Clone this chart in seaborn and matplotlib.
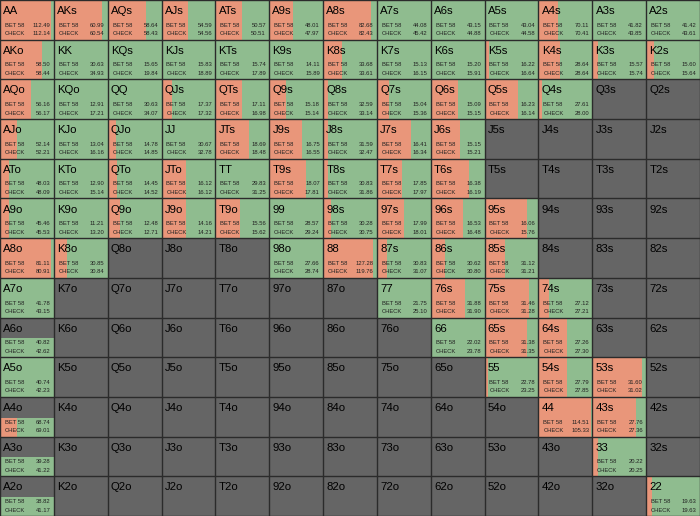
import numpy as np
import matplotlib
matplotlib.use("Agg")
import matplotlib.pyplot as plt
import seaborn as sns
from matplotlib.colors import ListedColormap

ranks = ["A", "K", "Q", "J", "T", "9", "8", "7", "6", "5", "4", "3", "2"]

# hands that are in the range, with share of the cell that is "bet" and the two EVs
hands = ["AA", "AKs", "AQs", "AJs", "ATs", "A9s", "A8s", "A7s", "A6s", "A5s", "A4s", "A3s", "A2s",
         "AKo", "KK", "KQs", "KJs", "KTs", "K9s", "K8s", "K7s", "K6s", "K5s", "K4s", "K3s", "K2s",
         "AQo", "KQo", "QQ", "QJs", "QTs", "Q9s", "Q8s", "Q7s", "Q6s", "Q5s", "Q4s",
         "AJo", "KJo", "QJo", "JJ", "JTs", "J9s", "J8s", "J7s", "J6s",
         "ATo", "KTo", "QTo", "JTo", "TT", "T9s", "T8s", "T7s", "T6s",
         "A9o", "K9o", "Q9o", "J9o", "T9o", "99", "98s", "97s", "96s", "95s",
         "A8o", "K8o", "98o", "88", "87s", "86s", "85s",
         "A7o", "77", "76s", "75s", "74s",
         "A6o", "66", "65s", "64s",
         "A5o", "55", "54s", "53s",
         "A4o", "44", "43s",
         "A3o", "33",
         "A2o", "22"]
bet_share = [0.94, 0.90, 0.72, 0.50, 0.50, 0.45, 0.89, 0.0, 0.0, 0.0, 0.36, 0.0, 0.0,
             0.78, 0.0, 0.0, 0.0, 0.0, 0.0, 0.35, 0.0, 0.0, 0.08, 0.40, 0.10, 0.14,
             0.58, 0.0, 0.0, 0.20, 0.50, 0.32, 0.10, 0.22, 0.50, 0.62, 0.07,
             0.31, 0.0, 0.15, 0.0, 0.62, 0.61, 0.10, 0.63, 0.55,
             0.16, 0.0, 0.18, 0.46, 0.0, 0.69, 0.10, 0.47, 0.71,
             0.16, 0.0, 0.22, 0.46, 0.45, 0.0, 0.15, 0.50, 0.59, 0.79,
             0.95, 0.24, 0.0, 0.93, 0.18, 0.26, 0.37,
             0.0, 0.0, 0.63, 0.83, 0.20,
             0.0, 0.0, 0.78, 0.53,
             0.02, 0.07, 0.53, 0.93,
             0.31, 0.98, 0.81,
             0.0, 0.10,
             0.0, 0.10]
bet_ev = [112.49, 60.99, 58.64, 54.59, 50.57, 48.01, 82.68, 44.08, 43.15, 43.04, 70.11, 41.82, 41.42,
          58.50, 30.63, 15.65, 15.83, 15.74, 14.11, 33.68, 15.13, 15.20, 16.22, 28.64, 15.57, 15.60,
          56.16, 12.91, 30.63, 17.37, 17.11, 15.18, 32.59, 15.04, 15.09, 16.23, 27.61,
          52.14, 13.04, 14.78, 30.67, 18.69, 16.75, 31.59, 16.41, 15.15,
          48.03, 12.90, 14.45, 16.12, 29.83, 18.07, 30.83, 17.85, 16.38,
          45.46, 11.21, 12.48, 14.16, 15.56, 28.57, 30.28, 17.99, 16.53, 16.06,
          81.11, 30.85, 27.66, 127.28, 30.83, 30.62, 31.12,
          41.78, 21.75, 31.88, 31.46, 27.12,
          40.82, 22.02, 31.38, 27.26,
          40.74, 22.78, 27.79, 31.60,
          68.74, 114.51, 27.76,
          39.28, 20.22,
          38.82, 19.63]
check_ev = [112.14, 60.54, 58.43, 54.56, 50.51, 47.97, 82.43, 45.42, 44.88, 44.58, 70.41, 43.85, 43.61,
            58.44, 34.93, 19.84, 18.89, 17.89, 15.89, 33.61, 16.15, 15.91, 16.64, 28.64, 15.74, 15.64,
            56.17, 17.21, 34.07, 17.32, 16.98, 15.14, 33.14, 15.36, 15.15, 16.14, 28.00,
            52.21, 16.16, 14.85, 32.78, 18.48, 16.55, 32.47, 16.34, 15.21,
            48.09, 15.14, 14.52, 16.12, 31.25, 17.81, 31.86, 17.97, 16.19,
            45.53, 13.20, 12.71, 14.21, 15.62, 29.24, 30.75, 18.01, 16.48, 15.76,
            80.91, 30.84, 28.74, 119.76, 31.07, 30.80, 31.21,
            43.15, 25.10, 31.90, 31.28, 27.21,
            42.62, 23.78, 31.35, 27.30,
            42.23, 23.25, 27.85, 31.02,
            69.01, 105.33, 27.36,
            41.22, 20.25,
            41.17, 19.63]
# hands only partly in range (fill covers the lower part of the cell)
half_hands = ["A6o", "A4o", "A3o", "A2o"]

BET_COLOR = "darksalmon"
CHECK_COLOR = "darkseagreen"
OUT_COLOR = "#656565"
SMALL_FONT = ["Liberation Sans Narrow", "Liberation Sans"]


def hand_name(r, c):
    if r == c:
        return ranks[r] + ranks[c]
    if c > r:
        return ranks[r] + ranks[c] + "s"
    return ranks[c] + ranks[r] + "o"


grid = [[hand_name(r, c) for c in range(13)] for r in range(13)]

fig = plt.figure(figsize=(7, 5.16), dpi=100)
ax = fig.add_axes([0, 0, 1, 1])

# gray base grid
sns.heatmap(np.zeros((13, 13)), cmap=ListedColormap([OUT_COLOR]), cbar=False,
            xticklabels=False, yticklabels=False, ax=ax)

for name, b, be, ce in zip(hands, bet_share, bet_ev, check_ev):
    r = [i for i in range(13) if name in grid[i]][0]
    c = grid[r].index(name)
    h = 0.48 if name in half_hands else 1.0
    ax.barh(r + 1 - h, b, left=c, height=h, align="edge", color=BET_COLOR, lw=0)
    ax.barh(r + 1 - h, 1 - b, left=c + b, height=h, align="edge", color=CHECK_COLOR, lw=0)
    ax.text(c + 0.09, r + 0.635, "BET 58", fontsize=4.2, color="#222222", va="center",
            family=SMALL_FONT)
    ax.text(c + 0.94, r + 0.635, "%.2f" % be, fontsize=4.2, color="#222222", va="center",
            ha="right", family=SMALL_FONT)
    ax.text(c + 0.09, r + 0.85, "CHECK", fontsize=4.2, color="#222222", va="center",
            family=SMALL_FONT)
    ax.text(c + 0.94, r + 0.85, "%.2f" % ce, fontsize=4.2, color="#222222", va="center",
            ha="right", family=SMALL_FONT)

for r in range(13):
    for c in range(13):
        ax.text(c + 0.06, r + 0.28, grid[r][c], fontsize=8.2, color="black",
                va="center", family="Liberation Sans")

for k in range(14):
    ax.axhline(k, color="#2b2b2b", lw=1)
    ax.axvline(k, color="#2b2b2b", lw=1)

ax.set_xlim(0, 13)
ax.set_ylim(13, 0)
ax.axis("off")
plt.savefig("out.png", dpi=100)
